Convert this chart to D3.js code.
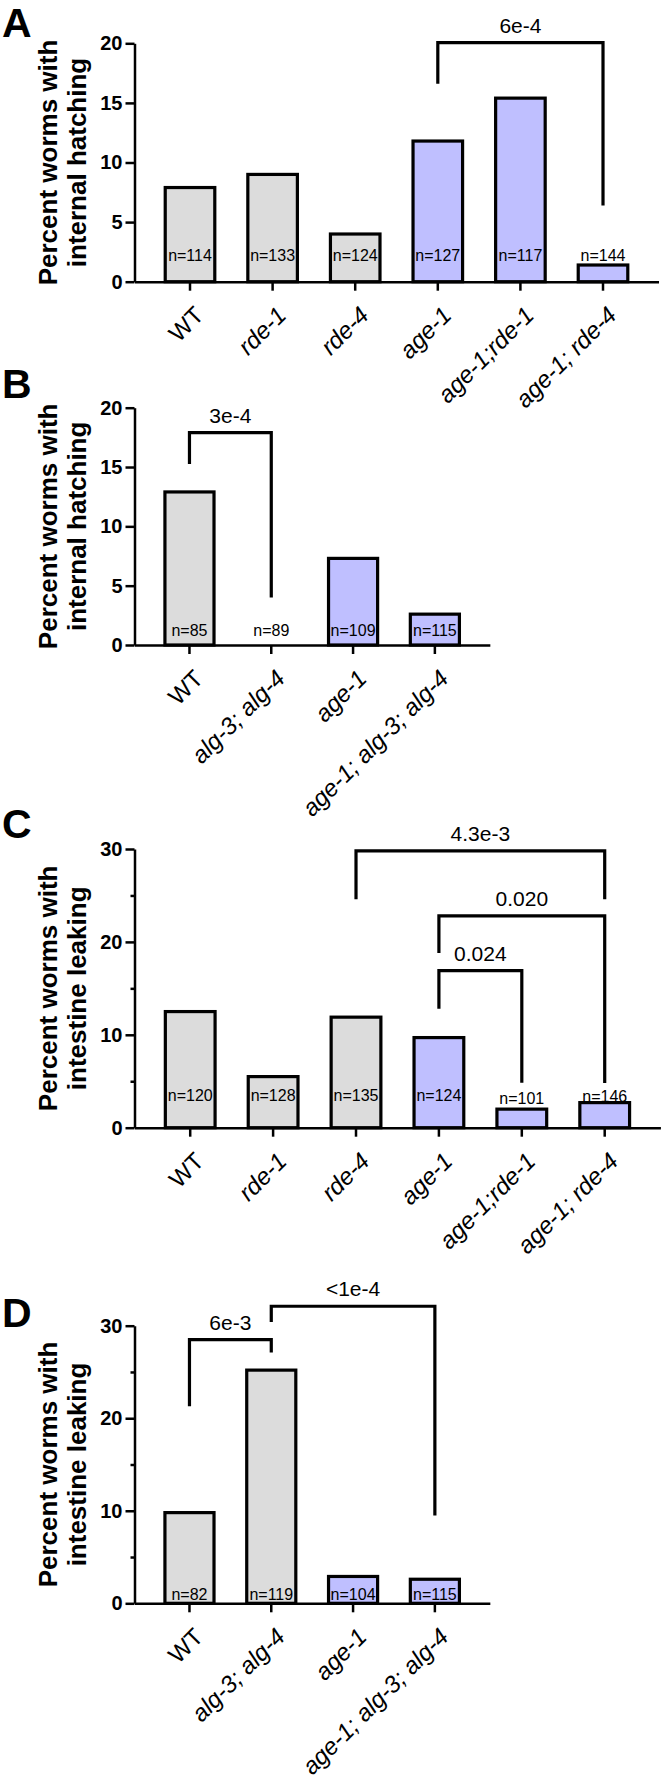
<!DOCTYPE html>
<html>
<head>
<meta charset="utf-8">
<script src="https://cdn.jsdelivr.net/npm/d3@7"></script>
<style>
body { margin:0; background:#fff; }
svg text { font-family: "Liberation Sans", Arial, Helvetica, sans-serif; }
</style>
</head>
<body>
<svg id="fig"></svg>
<script>
// categories
var rdeStrains = ["WT","rde-1","rde-4","age-1","age-1;rde-1","age-1; rde-4"];
var algStrains = ["WT","alg-3; alg-4","age-1","age-1; alg-3; alg-4"];
var rdeGroups = ["wt","wt","wt","age","age","age"];
var algGroups = ["wt","wt","age","age"];

// percent values (A,B internal hatching; C,D intestine leaking)
var hatchRde = [7.9, 9.0, 4.0, 11.8, 15.4, 1.4];
var hatchAlg = [12.9, 0, 7.3, 2.6];
var leakRde = [12.5, 5.5, 11.9, 9.7, 2.0, 2.7];
var leakAlg = [9.8, 25.2, 2.9, 2.6];

// sample sizes
var nHatchRde = [114, 133, 124, 127, 117, 144];
var nHatchAlg = [85, 89, 109, 115];
var nLeakRde = [120, 128, 135, 124, 101, 146];
var nLeakAlg = [82, 119, 104, 115];

// y tick labels
var ticks20 = [0, 5, 10, 15, 20];
var ticks30 = [0, 10, 20, 30];
var minor30 = [5, 15, 25];

// comparisons: from, to, p value, bracket top / left end / right end (in %)
var cmpA = [{a:"age-1", b:"age-1; rde-4", p:"6e-4", top:20.05, l:16.6, r:6.4}];
var cmpB = [{a:"WT", b:"alg-3; alg-4", p:"3e-4", top:17.9, l:15.25, r:4.0}];
var cmpC = [
    {a:"rde-4", b:"age-1; rde-4", p:"4.3e-3", top:29.8, l:24.6, r:24.6},
    {a:"age-1", b:"age-1; rde-4", p:"0.020", top:22.8, l:18.8, r:4.8},
    {a:"age-1", b:"age-1;rde-1", p:"0.024", top:16.9, l:12.8, r:4.85}
];
var cmpD = [
    {a:"WT", b:"alg-3; alg-4", p:"6e-3", top:28.5, l:21.3, r:27.1},
    {a:"alg-3; alg-4", b:"age-1; alg-3; alg-4", p:"<1e-4", top:32.1, l:30.4, r:9.5}
];

var screen = {width:663, height:1785};
var axisX = 134.5;
var fills = {wt:"#dcdcdc", age:"#bfbfff"};

var svg = d3.select("#fig")
    .attr("width", screen.width)
    .attr("height", screen.height);

var drawPanel = function(p)
{
    var n = p.cats.length;
    var xScale = d3.scaleBand()
        .domain(p.cats)
        .range([axisX, axisX + p.step*(n + 0.344)])
        .paddingInner(0.4)
        .paddingOuter(0.372);
    var yScale = d3.scaleLinear()
        .domain([0, p.max])
        .range([p.y0, p.yTop]);
    var cx = function(c) { return xScale(c) + xScale.bandwidth()/2; };

    var g = svg.append("g");

    // panel letter
    g.append("text")
        .attr("x", 2)
        .attr("y", p.letterY)
        .attr("font-size", 41)
        .attr("font-weight", "bold")
        .text(p.letter);

    // y title
    var ty = (p.y0 + p.yTop)/2;
    g.append("text")
        .attr("transform", "translate(57," + ty + ") rotate(-90)")
        .attr("text-anchor", "middle")
        .attr("font-size", 26)
        .attr("font-weight", "bold")
        .text("Percent worms with");
    g.append("text")
        .attr("transform", "translate(86," + ty + ") rotate(-90)")
        .attr("text-anchor", "middle")
        .attr("font-size", 26)
        .attr("font-weight", "bold")
        .text(p.title2);

    // bars
    var rows = p.cats.map(function(c, i)
        { return {cat:c, v:p.values[i], n:p.n[i], grp:p.groups[i]}; });

    g.selectAll("rect.bar")
        .data(rows.filter(function(d) { return d.v > 0; }))
        .enter()
        .append("rect")
        .attr("class", "bar")
        .attr("x", function(d) { return xScale(d.cat); })
        .attr("y", function(d) { return yScale(d.v); })
        .attr("width", xScale.bandwidth())
        .attr("height", function(d) { return p.y0 - yScale(d.v); })
        .attr("fill", function(d) { return fills[d.grp]; })
        .attr("stroke", "#000")
        .attr("stroke-width", 3.2);

    // n labels
    g.selectAll("text.nlab")
        .data(rows)
        .enter()
        .append("text")
        .attr("class", "nlab")
        .attr("x", function(d) { return cx(d.cat); })
        .attr("y", function(d, i) { return yScale(p.nAt[i]); })
        .attr("dy", "0.36em")
        .attr("text-anchor", "middle")
        .attr("font-size", 16)
        .text(function(d) { return "n=" + d.n; });

    // y axis
    var yAxis = d3.axisLeft(yScale)
        .tickValues(p.ticks)
        .tickSize(9)
        .tickSizeOuter(0)
        .tickPadding(3);
    var ya = g.append("g")
        .attr("transform", "translate(" + axisX + ",0)")
        .call(yAxis);
    if (p.minor)
    {
        g.append("g")
            .attr("transform", "translate(" + axisX + ",0)")
            .call(d3.axisLeft(yScale).tickValues(p.minor).tickSize(4).tickFormat(""))
            .call(function(s) { s.select(".domain").remove(); });
    }

    // x axis
    var xAxis = d3.axisBottom(xScale)
        .tickSize(9)
        .tickSizeOuter(0);
    var xa = g.append("g")
        .attr("transform", "translate(0," + p.y0 + ")")
        .call(xAxis);
    xa.selectAll("text")
        .attr("x", 0)
        .attr("y", 0)
        .attr("dy", "0.71em")
        .attr("text-anchor", "end")
        .attr("transform", "translate(3,23) rotate(-45)")
        .attr("font-size", 24)
        .attr("font-style", function(d) { return d == "WT" ? "normal" : "italic"; });

    ya.selectAll("text")
        .attr("font-size", 20)
        .attr("font-weight", "bold");

    svg.selectAll(".domain, .tick line")
        .attr("stroke", "#000")
        .attr("stroke-width", 2.5);
    svg.selectAll(".tick text").attr("fill", "#000").attr("font-family", null);

    // significance brackets
    p.cmp.forEach(function(c)
    {
        var xa1 = cx(c.a), xb1 = cx(c.b), yt = yScale(c.top);
        g.append("path")
            .attr("d", "M" + xa1 + "," + yScale(c.l) + "V" + yt + "H" + xb1 + "V" + yScale(c.r))
            .attr("fill", "none")
            .attr("stroke", "#000")
            .attr("stroke-width", 3.2);
        g.append("text")
            .attr("x", (xa1 + xb1)/2)
            .attr("y", yt - 17.5)
            .attr("dy", "0.36em")
            .attr("text-anchor", "middle")
            .attr("font-size", 21)
            .text(c.p);
    });
}

drawPanel({letter:"A", letterY:37, cats:rdeStrains, groups:rdeGroups, values:hatchRde, n:nHatchRde,
    nAt:[2.24,2.24,2.24,2.24,2.24,2.24], max:20, ticks:ticks20, minor:null,
    y0:281.7, yTop:43.3, step:82.6, title2:"internal hatching", cmp:cmpA});

drawPanel({letter:"B", letterY:398, cats:algStrains, groups:algGroups, values:hatchAlg, n:nHatchAlg,
    nAt:[1.26,1.26,1.26,1.26], max:20, ticks:ticks20, minor:null,
    y0:645, yTop:407.7, step:81.8, title2:"internal hatching", cmp:cmpB});

drawPanel({letter:"C", letterY:838, cats:rdeStrains, groups:rdeGroups, values:leakRde, n:nLeakRde,
    nAt:[3.45,3.45,3.45,3.45,3.2,3.4], max:30, ticks:ticks30, minor:minor30,
    y0:1127.7, yTop:849, step:82.9, title2:"intestine leaking", cmp:cmpC});

drawPanel({letter:"D", letterY:1327, cats:algStrains, groups:algGroups, values:leakAlg, n:nLeakAlg,
    nAt:[1.0,1.0,1.0,1.0], max:30, ticks:ticks30, minor:minor30,
    y0:1603.3, yTop:1325.7, step:81.8, title2:"intestine leaking", cmp:cmpD});
</script>
</body>
</html>
